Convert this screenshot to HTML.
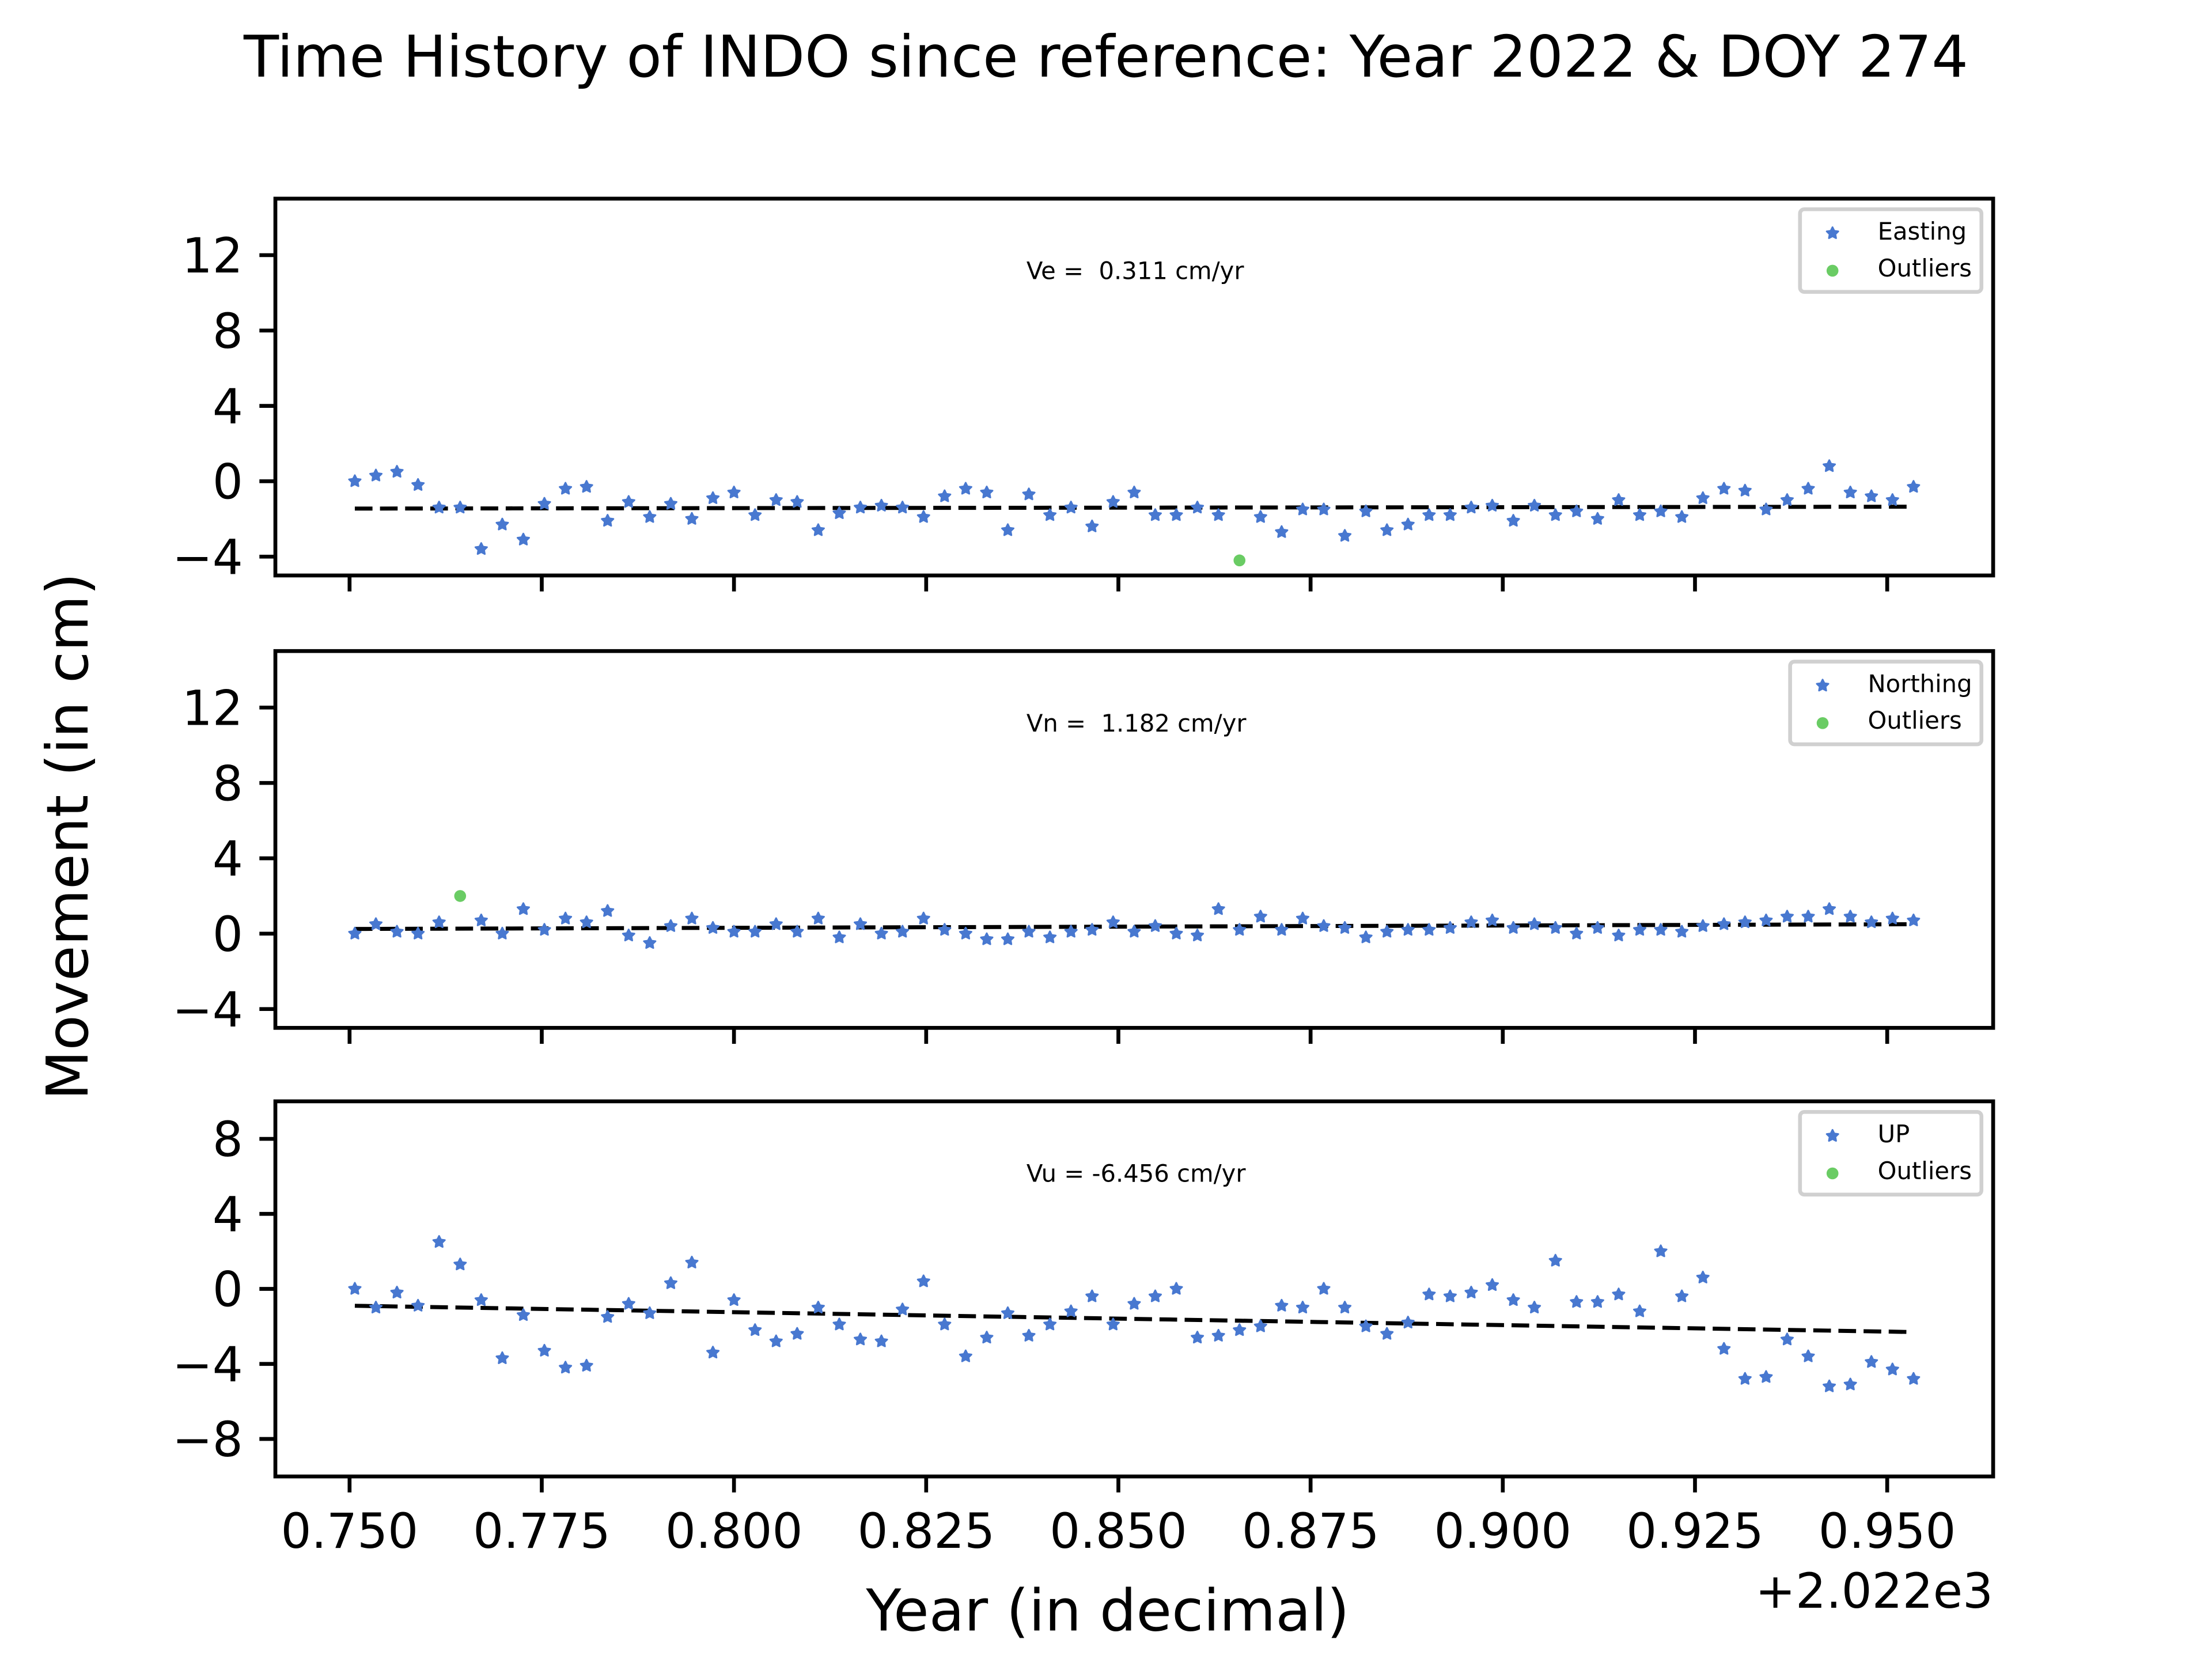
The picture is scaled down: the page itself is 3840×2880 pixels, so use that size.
<!DOCTYPE html>
<html><head><meta charset="utf-8"><style>
html,body{margin:0;padding:0;background:#fff;overflow:hidden}
svg{display:block;font-family:"DejaVu Sans","Liberation Sans",sans-serif}
</style></head><body>
<svg id="fig" width="3840" height="2880" viewBox="0 0 1565.6 1174.2" xmlns="http://www.w3.org/2000/svg">
<rect width="1565.6" height="1174.2" fill="#fff"/>
<text x="782.8" y="54.3" font-size="40.8" text-anchor="middle">Time History of INDO since reference: Year 2022 &amp; DOY 274</text>
<text x="784" y="1154" font-size="40.8" text-anchor="middle">Year (in decimal)</text>
<text x="1410.7" y="1138" font-size="34" text-anchor="end">+2.022e3</text>
<text transform="translate(62,592) rotate(-90)" font-size="40.8" text-anchor="middle">Movement (in cm)</text>
<g id="plots"></g>
</svg>
<script>
const doy = [274,275,276,277,278,279,280,281,282,283,284,285,286,287,288,289,290,291,292,293,294,295,296,297,298,299,300,301,302,303,304,305,306,307,308,309,310,311,312,313,314,315,316,317,318,319,320,321,322,323,324,325,326,327,328,329,330,331,332,333,334,335,336,337,338,339,340,341,342,343,344,345,346,347,348];
const easting = [0,0.3,0.5,-0.2,-1.4,-1.4,-3.6,-2.3,-3.1,-1.2,-0.4,-0.3,-2.1,-1.1,-1.9,-1.2,-2.0,-0.9,-0.6,-1.8,-1.0,-1.1,-2.6,-1.7,-1.4,-1.3,-1.4,-1.9,-0.8,-0.4,-0.6,-2.6,-0.7,-1.8,-1.4,-2.4,-1.1,-0.6,-1.8,-1.8,-1.4,-1.8,-4.2,-1.9,-2.7,-1.5,-1.5,-2.9,-1.6,-2.6,-2.3,-1.8,-1.8,-1.4,-1.3,-2.1,-1.3,-1.8,-1.6,-2.0,-1.0,-1.8,-1.6,-1.9,-0.9,-0.4,-0.5,-1.5,-1.0,-0.4,0.8,-0.6,-0.8,-1.0,-0.3];
const eastingOutliers = [42];
const northing = [0,0.5,0.1,0.0,0.6,2.0,0.7,0.0,1.3,0.2,0.8,0.6,1.2,-0.1,-0.5,0.4,0.8,0.3,0.1,0.1,0.5,0.1,0.8,-0.2,0.5,0.0,0.1,0.8,0.2,0.0,-0.3,-0.3,0.1,-0.2,0.1,0.2,0.6,0.1,0.4,0.0,-0.1,1.3,0.2,0.9,0.2,0.8,0.4,0.3,-0.2,0.1,0.2,0.2,0.3,0.6,0.7,0.3,0.5,0.3,0.0,0.3,-0.1,0.2,0.2,0.1,0.4,0.5,0.6,0.7,0.9,0.9,1.3,0.9,0.6,0.8,0.7];
const northingOutliers = [5];
const up = [0,-1.0,-0.2,-0.9,2.5,1.3,-0.6,-3.7,-1.4,-3.3,-4.2,-4.1,-1.5,-0.8,-1.3,0.3,1.4,-3.4,-0.6,-2.2,-2.8,-2.4,-1.0,-1.9,-2.7,-2.8,-1.1,0.4,-1.9,-3.6,-2.6,-1.3,-2.5,-1.9,-1.2,-0.4,-1.9,-0.8,-0.4,0.0,-2.6,-2.5,-2.2,-2.0,-0.9,-1.0,0.0,-1.0,-2.0,-2.4,-1.8,-0.3,-0.4,-0.2,0.2,-0.6,-1.0,1.5,-0.7,-0.7,-0.3,-1.2,2.0,-0.4,0.6,-3.2,-4.8,-4.7,-2.7,-3.6,-5.2,-5.1,-3.9,-4.3,-4.8];
const upOutliers = [];
const fitE = [-1.45,-1.35], fitN = [0.25,0.5], fitU = [-0.9,-2.3];
const xTicks = [0.750,0.775,0.800,0.825,0.850,0.875,0.900,0.925,0.950];
const yTicksEN = [-4,0,4,8,12];
const yTicksU = [-8,-4,0,4,8];
const labels = ["Ve =\u00a0 0.311 cm/yr","Vn =\u00a0 1.182 cm/yr","Vu = -6.456 cm/yr"];
const legendNames = ["Easting","Northing","UP"];

const NS="http://www.w3.org/2000/svg";
const X0=194.9,X1=1410.7,XMIN=0.74035,XMAX=0.96378;
const xs=v=>X0+(v-XMIN)/(XMAX-XMIN)*(X1-X0);
const root=document.getElementById('plots');
function mk(tag,attrs,parent){const e=document.createElementNS(NS,tag);for(const k in attrs)e.setAttribute(k,attrs[k]);(parent||root).appendChild(e);return e;}
function star(cx,cy,r,parent,fill){let p=[];for(let i=0;i<10;i++){const a=-Math.PI/2+i*Math.PI/5;const rr=i%2?r*0.5:r;p.push((cx+rr*Math.cos(a)).toFixed(2)+','+(cy+rr*Math.sin(a)).toFixed(2));}return mk('polygon',{points:p.join(' '),fill:fill,stroke:fill,'stroke-width':1.2,'stroke-linejoin':'round'},parent);}
const BLUE="#4878d0",GREEN="#6acc64";
const panels=[
 {top:140.6,bot:407.3,ymin:-5,ymax:15,vals:easting,out:eastingOutliers,fit:fitE,ticks:yTicksEN,lab:labels[0],leg:legendNames[0],lx:1274,mx:1297,tx:1329,name:'easting'},
 {top:460.8,bot:727.5,ymin:-5,ymax:15,vals:northing,out:northingOutliers,fit:fitN,ticks:yTicksEN,lab:labels[1],leg:legendNames[1],lx:1267,mx:1290,tx:1322,name:'northing'},
 {top:779.5,bot:1045,ymin:-10,ymax:10,vals:up,out:upOutliers,fit:fitU,ticks:yTicksU,lab:labels[2],leg:legendNames[2],lx:1274,mx:1297,tx:1329,name:'up'}];
panels.forEach((p,pi)=>{
 const g=mk('g',{});
 
 
 const ys=v=>p.bot-(v-p.ymin)/(p.ymax-p.ymin)*(p.bot-p.top);
 const xd=doy.map(d=>d/365);
 const fl=mk('line',{x1:xs(xd[0]),x2:xs(xd[xd.length-1]),y1:ys(p.fit[0]),y2:ys(p.fit[1]),stroke:'#000','stroke-width':2.85,'stroke-dasharray':'12.5,5.3'},g);
 
 
 p.vals.forEach((v,i)=>{
  if(p.out.includes(i)){const c=mk('circle',{cx:xs(xd[i]),cy:ys(v),r:4.2,fill:GREEN},g);
   
   }
  else{const s=star(xs(xd[i]),ys(v),4.3,g,BLUE);
   
   }
 });
 const fr=mk('rect',{x:X0,y:p.top,width:X1-X0,height:p.bot-p.top,fill:'none',stroke:'#000','stroke-width':2.72},g);
 
 
 xTicks.forEach(t=>{mk('line',{x1:xs(t),x2:xs(t),y1:p.bot,y2:p.bot+11.3,stroke:'#000','stroke-width':2.72},g);
  if(pi==2){const tx=mk('text',{x:xs(t),y:1095.5,'font-size':34,'text-anchor':'middle'},g);tx.textContent=t.toFixed(3);
   
   }});
 p.ticks.forEach(t=>{mk('line',{x1:X0,x2:X0-11.3,y1:ys(t),y2:ys(t),stroke:'#000','stroke-width':2.72},g);
  const tx=mk('text',{x:172,y:ys(t)+12.3,'font-size':34,'text-anchor':'end'},g);tx.textContent=String(t).replace('-','\u2212');
  
  });
 const an=mk('text',{x:726.5,y:p.top+57,'font-size':17},g);an.textContent=p.lab;
 
 
 const lg=mk('g',{},g);
 
 
 mk('rect',{x:p.lx,y:p.top+7.5,width:1402.4-p.lx,height:58.5,rx:3,fill:'#fff',stroke:'#d0d0d0','stroke-width':2.7},lg);
 star(p.mx,p.top+24.5,4.3,lg,BLUE);
 mk('circle',{cx:p.mx,cy:p.top+51,r:4.2,fill:GREEN},lg);
 const t1=mk('text',{x:p.tx,y:p.top+29,'font-size':17},lg);t1.textContent=p.leg;
 const t2=mk('text',{x:p.tx,y:p.top+55,'font-size':17},lg);t2.textContent='Outliers';
});
</script>
</body></html>
